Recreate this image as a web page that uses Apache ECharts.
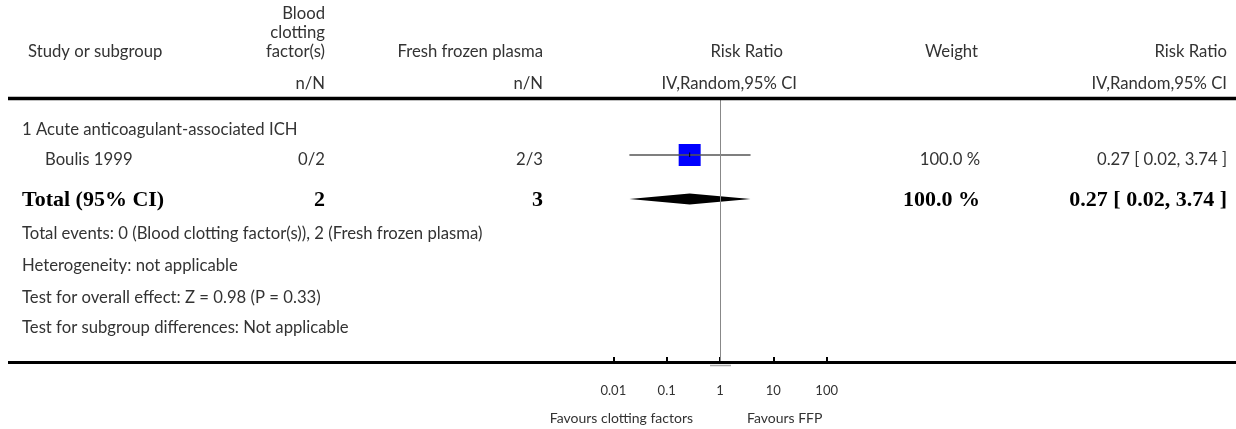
<!DOCTYPE html>
<html><head><meta charset="utf-8">
<script src="https://cdn.jsdelivr.net/npm/echarts@6/dist/echarts.min.js"></script>
<style>html,body{margin:0;padding:0;background:#fff}#c{width:1236px;height:429px}</style>
</head><body><div id="c"></div>
<script>
// ---- data ----
const headerStudy = "Study or subgroup";
const headerTreat = ["Blood", "clotting", "factor(s)"];
const headerCtrl = "Fresh frozen plasma";
const headerRR = "Risk Ratio";
const headerWeight = "Weight";
const subHeaderNN = "n/N";
const subHeaderMethod = "IV,Random,95% CI";
const subgroupTitle = "1 Acute anticoagulant-associated ICH";
const studies = ["Boulis 1999"];
const treatEvents = ["0/2"];
const ctrlEvents = ["2/3"];
const studyRR = [0.27];
const studyLo = [0.02];
const studyHi = [3.74];
const studyWeight = [100.0];
const totalLabel = "Total (95% CI)";
const totalTreatN = [2];
const totalCtrlN = [3];
const totalRR = [0.27];
const totalLo = [0.02];
const totalHi = [3.74];
const totalWeight = [100.0];
const footnotes = [
  "Total events: 0 (Blood clotting factor(s)), 2 (Fresh frozen plasma)",
  "Heterogeneity: not applicable",
  "Test for overall effect: Z = 0.98 (P = 0.33)",
  "Test for subgroup differences: Not applicable"
];
const tickValues = [0.01, 0.1, 1, 10, 100];
const tickLabels = ["0.01", "0.1", "1", "10", "100"];
const favourLeft = "Favours clotting factors";
const favourRight = "Favours FFP";

// ---- layout ----
const FONT = 'Lato, "Open Sans", sans-serif';
const SERIF = '"Liberation Serif", "DejaVu Serif", serif';
const TXT = '#333';
const fs = 16.7;
const col = { studyX: 28, groupX: 22, studyRowX: 45, treatR: 325, ctrlR: 543, rrR: 783, methodR: 797, weightR: 980, ciR: 1227 };
const rowY = { h1: 14, h2: 33, h3: 52, sub: 84, group: 130, study: [160], total: 200, foot: [234, 266, 298, 328], favour: 418 };

function fmtCI(r, l, h) { return r.toFixed(2) + ' [ ' + l.toFixed(2) + ', ' + h.toFixed(2) + ' ]'; }
function txt(text, x, y, align, font, fill) {
  return { type: 'text', x: x, y: y, silent: true, z: 10,
    style: { text: text, x: 0, y: 0, fill: fill || TXT, font: font || (fs + 'px ' + FONT),
      align: align, textAlign: align, verticalAlign: 'middle', textVerticalAlign: 'middle' } };
}
function hline(x1, x2, y, w, color) {
  return { type: 'line', silent: true, z: 10, shape: { x1: x1, y1: y, x2: x2, y2: y }, style: { stroke: color || '#000', lineWidth: w } };
}

const graphics = [];
graphics.push(txt(headerStudy, col.studyX, rowY.h3, 'left'));
headerTreat.forEach((t, i) => graphics.push(txt(t, col.treatR, [rowY.h1, rowY.h2, rowY.h3][i], 'right')));
graphics.push(txt(headerCtrl, col.ctrlR, rowY.h3, 'right'));
graphics.push(txt(headerRR, col.rrR, rowY.h3, 'right'));
graphics.push(txt(headerWeight, 978, rowY.h3, 'right'));
graphics.push(txt(headerRR, col.ciR, rowY.h3, 'right'));
graphics.push(txt(subHeaderNN, col.treatR, rowY.sub, 'right'));
graphics.push(txt(subHeaderNN, col.ctrlR, rowY.sub, 'right'));
graphics.push(txt(subHeaderMethod, col.methodR, rowY.sub, 'right'));
graphics.push(txt(subHeaderMethod, col.ciR, rowY.sub, 'right'));
graphics.push(hline(8, 1236, 98.5, 3.5));
graphics.push(hline(8, 1236, 362.5, 3));
graphics.push(hline(710, 731, 365.5, 1.5, '#aaa'));
graphics.push(txt(subgroupTitle, col.groupX, rowY.group, 'left'));
studies.forEach((s, i) => {
  const y = rowY.study[i];
  graphics.push(txt(s, col.studyRowX, y, 'left'));
  graphics.push(txt(treatEvents[i], col.treatR, y, 'right'));
  graphics.push(txt(ctrlEvents[i], col.ctrlR, y, 'right'));
  graphics.push(txt(studyWeight[i].toFixed(1) + ' %', col.weightR, y, 'right'));
  graphics.push(txt(fmtCI(studyRR[i], studyLo[i], studyHi[i]), col.ciR, y, 'right'));
});
const boldFont = 'bold 22px ' + SERIF;
graphics.push(txt(totalLabel, col.groupX, rowY.total, 'left', boldFont, '#000'));
graphics.push(txt(String(totalTreatN[0]), col.treatR, rowY.total, 'right', boldFont, '#000'));
graphics.push(txt(String(totalCtrlN[0]), col.ctrlR, rowY.total, 'right', boldFont, '#000'));
graphics.push(txt(totalWeight[0].toFixed(1) + ' %', col.weightR, rowY.total, 'right', boldFont, '#000'));
graphics.push(txt(fmtCI(totalRR[0], totalLo[0], totalHi[0]), col.ciR, rowY.total, 'right', boldFont, '#000'));
footnotes.forEach((f, i) => graphics.push(txt(f, col.groupX, rowY.foot[i], 'left')));
graphics.push(txt(favourLeft, 693, rowY.favour, 'right', '14px ' + FONT));
graphics.push(txt(favourRight, 747, rowY.favour, 'left', '14px ' + FONT));

const chart = echarts.init(document.getElementById('c'), null, { renderer: 'canvas' });
chart.setOption({
  animation: false,
  backgroundColor: '#fff',
  grid: { left: 613.33, width: 213.33, top: 100, height: 262 },
  xAxis: {
    type: 'log', logBase: 10, min: 0.01, max: 100, position: 'bottom',
    axisLine: { show: false, onZero: false },
    axisTick: { show: true, inside: true, length: 5, lineStyle: { color: '#000', width: 2 } },
    axisLabel: { show: true, margin: 22, color: TXT, fontSize: 13, fontFamily: FONT,
      formatter: function (v) {
        let best = 0, d = Infinity;
        tickValues.forEach((t, i) => { const dd = Math.abs(Math.log10(t) - Math.log10(v)); if (dd < d) { d = dd; best = i; } });
        return tickLabels[best];
      } },
    splitLine: { show: false }
  },
  yAxis: { type: 'value', min: -1.25, max: 4.705, inverse: true, show: false, splitLine: { show: false } },
  graphic: { elements: graphics },
  series: [
    {
      type: 'custom', name: 'studies', z: 2,
      data: studies.map((s, i) => [studyRR[i], i, studyLo[i], studyHi[i], studyWeight[i]]),
      renderItem: function (params, api) {
        const rr = api.value(0), row = api.value(1), lo = api.value(2), hi = api.value(3), w = api.value(4);
        const c = api.coord([rr, row]), l = api.coord([lo, row]), h = api.coord([hi, row]);
        const s = 22 * Math.sqrt(w / 100);
        return { type: 'group', children: [
          { type: 'rect', shape: { x: c[0] - s / 2, y: c[1] - s / 2, width: s, height: s }, style: { fill: '#0000ff' } },
          { type: 'line', shape: { x1: l[0], y1: c[1], x2: h[0], y2: c[1] }, style: { stroke: '#555', lineWidth: 1.3 } },
          { type: 'line', shape: { x1: c[0], y1: c[1] - 2.5, x2: c[0], y2: c[1] + 2 }, style: { stroke: '#000', lineWidth: 1 } }
        ] };
      }
    },
    {
      type: 'custom', name: 'total', z: 2,
      data: totalRR.map((r, i) => [r, studies.length, totalLo[i], totalHi[i]]),
      renderItem: function (params, api) {
        const rr = api.value(0), row = api.value(1), lo = api.value(2), hi = api.value(3);
        const c = api.coord([rr, row]), l = api.coord([lo, row]), h = api.coord([hi, row]);
        const hh = 5.5;
        return { type: 'polygon', shape: { points: [[l[0], c[1]], [c[0], c[1] - hh], [h[0], c[1]], [c[0], c[1] + hh]] }, style: { fill: '#000' } };
      }
    },
    {
      type: 'line', name: 'null', z: 5, data: [[1, 0]], showSymbol: false, symbol: 'none', lineStyle: { opacity: 0 },
      markLine: { silent: true, symbol: ['none', 'none'], label: { show: false },
        lineStyle: { color: '#888', width: 1, type: 'solid' }, data: [{ xAxis: 1 }] }
    }
  ]
});
</script>
</body></html>
